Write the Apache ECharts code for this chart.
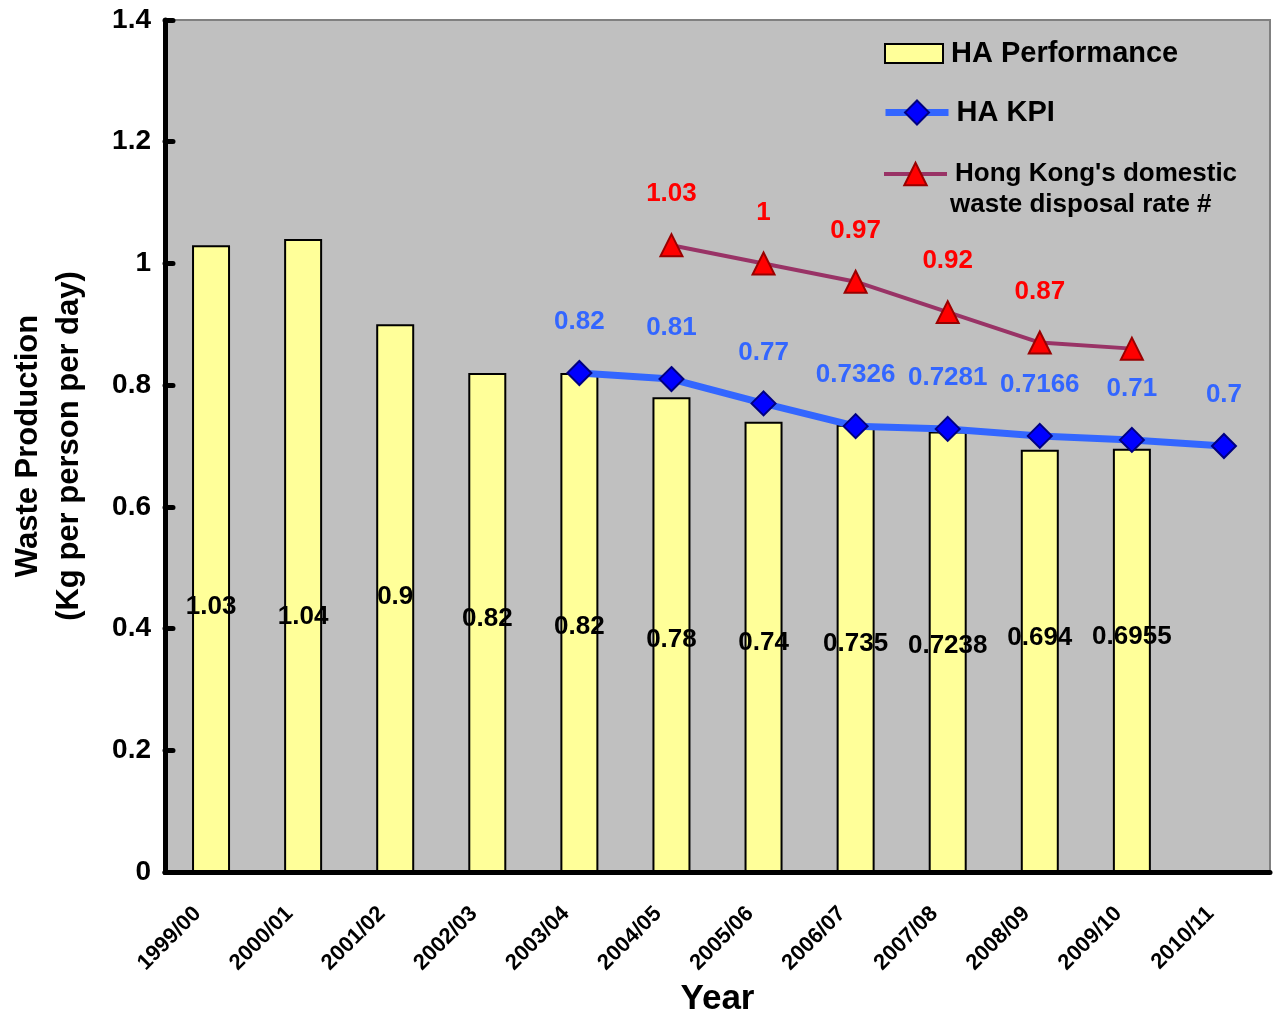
<!DOCTYPE html>
<html>
<head>
<meta charset="utf-8">
<script src="https://cdn.jsdelivr.net/npm/echarts@6/dist/echarts.min.js"></script>
<style>html,body{margin:0;padding:0;background:#fff}#c{width:1275px;height:1017px}</style>
</head>
<body>
<div id="c"></div>
<script>
const categories = ['1999/00','2000/01','2001/02','2002/03','2003/04','2004/05','2005/06','2006/07','2007/08','2008/09','2009/10','2010/11'];
const haPerformance = [1.03, 1.04, 0.9, 0.82, 0.82, 0.78, 0.74, 0.735, 0.7238, 0.694, 0.6955, null];
const haKPI = [null, null, null, null, 0.82, 0.81, 0.77, 0.7326, 0.7281, 0.7166, 0.71, 0.7];
const hkDisposal = [null, null, null, null, null, 1.03, 1.00, 0.97, 0.92, 0.87, 0.86, null];
const yTicks = { min: 0, max: 1.4, interval: 0.2 };

const FONT = '"Liberation Sans", Arial, sans-serif';
// per-bar label lift (px above bar base) — styling only
const barLabelLift = [252, 242, 262, 240, 232, 219, 216, 215, 213, 221, 222, 0];

const chart = echarts.init(document.getElementById('c'));
const option = {
  animation: false,
  textStyle: { fontFamily: FONT },
  grid: {
    left: 165, right: 5, top: 20, bottom: 145,
    outerBoundsMode: 'none', containLabel: false,
    show: true, backgroundColor: '#C0C0C0', borderColor: '#808080', borderWidth: 2
  },
  legend: [
    {
      data: [{ name: 'HA Performance', icon: 'rect' }], orient: 'vertical', left: 884, top: 39, padding: 0,
      itemWidth: 58, itemHeight: 19,
      itemStyle: { borderColor: '#000', borderWidth: 2 },
      textStyle: { fontFamily: FONT, fontWeight: 'bold', fontSize: 29, color: '#000', padding: [0, 0, 0, 3] }
    },
    {
      data: ['HA KPI'], orient: 'vertical', left: 882, top: 98, padding: 0,
      itemWidth: 63, itemHeight: 30,
      lineStyle: { width: 7, color: '#3366FF' },
      textStyle: { fontFamily: FONT, fontWeight: 'bold', fontSize: 29, color: '#000', padding: [0, 0, 0, 3] }
    },
    {
      data: ["Hong Kong's domestic waste disposal rate #"], orient: 'vertical', left: 882, top: 161, padding: 0,
      itemWidth: 63, itemHeight: 28,
      lineStyle: { width: 4, color: '#993366' },
      formatter: () => "Hong Kong's domestic",
      textStyle: { fontFamily: FONT, fontWeight: 'bold', fontSize: 26, color: '#000', padding: [0, 0, 0, 3] }
    }
  ],
  graphic: [
    {
      type: 'text', left: 950, top: 192,
      style: { text: 'waste disposal rate #', font: 'bold 26px ' + FONT, fill: '#000' }
    }
  ],
  xAxis: {
    type: 'category', data: categories,
    name: 'Year', nameLocation: 'middle', nameGap: 107,
    nameTextStyle: { fontFamily: FONT, fontWeight: 'bold', fontSize: 35, color: '#000' },
    axisLine: { lineStyle: { color: '#000', width: 5, cap: 'round' } },
    axisTick: { inside: true, length: 8, lineStyle: { color: '#000', width: 5, cap: 'round' } },
    axisLabel: { rotate: 45, margin: 25, padding: [0, 19, 0, 0], fontFamily: FONT, fontWeight: 'bold', fontSize: 22, color: '#000' }
  },
  yAxis: {
    type: 'value', min: yTicks.min, max: yTicks.max, interval: yTicks.interval,
    name: 'Waste Production\n(Kg per person per day)', nameLocation: 'middle', nameGap: 75,
    nameTextStyle: { fontFamily: FONT, fontWeight: 'bold', fontSize: 31, color: '#000', lineHeight: 41 },
    axisLine: { show: true, lineStyle: { color: '#000', width: 5, cap: 'round' } },
    axisTick: { show: true, inside: true, length: 8, lineStyle: { color: '#000', width: 5, cap: 'round' } },
    splitLine: { show: false },
    axisLabel: { margin: 14, fontFamily: FONT, fontWeight: 'bold', fontSize: 28, color: '#000' }
  },
  series: [
    {
      name: 'HA Performance', type: 'bar', barWidth: 38,
      itemStyle: { color: '#FFFF99', borderColor: '#000', borderWidth: 2 },
      data: haPerformance.map((v, i) => ({
        value: v,
        label: { show: v != null, position: 'insideBottom', distance: barLabelLift[i] }
      })),
      label: { fontFamily: FONT, fontWeight: 'bold', fontSize: 26, color: '#000' },
      z: 2
    },
    {
      name: 'HA KPI', type: 'line', data: haKPI,
      lineStyle: { color: '#3366FF', width: 7 },
      itemStyle: { color: '#0000FF', borderColor: '#000080', borderWidth: 2 },
      symbol: 'diamond', symbolSize: 24,
      label: { show: true, position: 'top', distance: 25, fontFamily: FONT, fontWeight: 'bold', fontSize: 26, color: '#3366FF' },
      z: 4
    },
    {
      name: "Hong Kong's domestic waste disposal rate #", type: 'line', data: hkDisposal,
      lineStyle: { color: '#993366', width: 4 },
      itemStyle: { color: '#FF0000', borderColor: '#990000', borderWidth: 2 },
      symbol: 'triangle', symbolSize: 22,
      label: {
        show: true, position: 'top', distance: 26, fontFamily: FONT, fontWeight: 'bold', fontSize: 26, color: '#FF0000',
        formatter: p => (p.dataIndex === 10 ? '' : String(p.value))
      },
      z: 4
    },
    {
      name: 'hkLast', type: 'line', data: hkDisposal.map((v, i) => (i === 10 ? v : null)),
      showSymbol: true, symbol: 'circle', symbolSize: 1, itemStyle: { opacity: 0 },
      lineStyle: { opacity: 0 }, silent: true,
      label: { show: true, position: 'right', distance: 20, fontFamily: FONT, fontWeight: 'bold', fontSize: 26, color: '#FF0000' },
      z: 5
    }
  ]
};
chart.setOption(option);
</script>
</body>
</html>
